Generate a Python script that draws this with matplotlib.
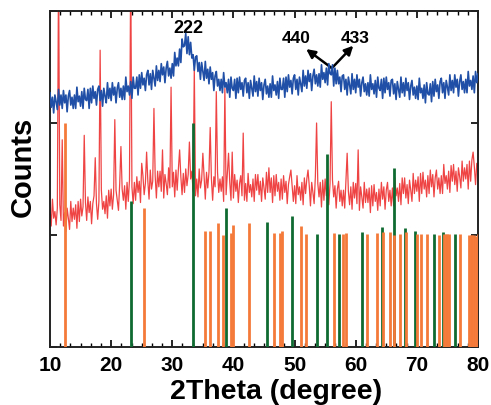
import numpy as np
import matplotlib
matplotlib.use("Agg")
import matplotlib.pyplot as plt
from matplotlib.ticker import AutoMinorLocator

plt.rcParams['font.family'] = ['Liberation Sans', 'DejaVu Sans']
plt.rcParams['font.weight'] = 'bold'

# 2-theta scan grid (0.2 degree step, 10-80 degrees)
two_theta = np.linspace(10, 80, 351)

# Upper pattern (blue), offset counts
blue_counts = [
    2.27, 2.14, 2.23, 2.09, 2.25, 2.19, 2.12, 2.30, 2.16, 2.25,
    2.13, 2.29, 2.18, 2.25, 2.10, 2.24, 2.29, 2.16, 2.23, 2.13,
    2.25, 2.13, 2.32, 2.19, 2.24, 2.15, 2.28, 2.13, 2.31, 2.21,
    2.20, 2.30, 2.13, 2.31, 2.18, 2.33, 2.22, 2.28, 2.16, 2.30,
    2.33, 2.20, 2.29, 2.15, 2.31, 2.24, 2.18, 2.36, 2.22, 2.31,
    2.20, 2.36, 2.25, 2.32, 2.18, 2.31, 2.36, 2.23, 2.31, 2.21,
    2.33, 2.21, 2.41, 2.28, 2.33, 2.25, 2.37, 2.22, 2.41, 2.31,
    2.31, 2.41, 2.25, 2.43, 2.31, 2.45, 2.34, 2.40, 2.29, 2.43,
    2.47, 2.34, 2.44, 2.30, 2.47, 2.40, 2.33, 2.51, 2.38, 2.47,
    2.37, 2.53, 2.43, 2.50, 2.36, 2.49, 2.55, 2.42, 2.49, 2.40,
    2.53, 2.42, 2.63, 2.51, 2.58, 2.51, 2.66, 2.54, 2.75, 2.68,
    2.69, 2.80, 2.62, 2.77, 2.61, 2.72, 2.58, 2.61, 2.47, 2.59,
    2.60, 2.46, 2.54, 2.39, 2.54, 2.46, 2.38, 2.55, 2.40, 2.48,
    2.35, 2.50, 2.39, 2.45, 2.29, 2.42, 2.46, 2.33, 2.39, 2.29,
    2.39, 2.27, 2.45, 2.32, 2.36, 2.27, 2.39, 2.23, 2.41, 2.31,
    2.29, 2.39, 2.22, 2.40, 2.27, 2.41, 2.30, 2.36, 2.24, 2.38,
    2.40, 2.27, 2.36, 2.22, 2.38, 2.31, 2.24, 2.42, 2.28, 2.37,
    2.24, 2.40, 2.29, 2.36, 2.21, 2.34, 2.39, 2.26, 2.33, 2.23,
    2.35, 2.23, 2.42, 2.29, 2.34, 2.25, 2.37, 2.22, 2.40, 2.30,
    2.30, 2.40, 2.23, 2.41, 2.28, 2.43, 2.32, 2.38, 2.26, 2.40,
    2.43, 2.30, 2.39, 2.25, 2.41, 2.35, 2.28, 2.47, 2.33, 2.42,
    2.31, 2.47, 2.37, 2.44, 2.29, 2.42, 2.48, 2.35, 2.43, 2.33,
    2.44, 2.32, 2.52, 2.39, 2.45, 2.36, 2.49, 2.34, 2.53, 2.44,
    2.43, 2.52, 2.33, 2.49, 2.35, 2.47, 2.35, 2.41, 2.28, 2.42,
    2.43, 2.30, 2.39, 2.25, 2.41, 2.34, 2.26, 2.44, 2.30, 2.39,
    2.27, 2.43, 2.32, 2.39, 2.24, 2.36, 2.41, 2.28, 2.35, 2.25,
    2.36, 2.24, 2.43, 2.30, 2.35, 2.26, 2.38, 2.23, 2.41, 2.31,
    2.29, 2.39, 2.22, 2.40, 2.27, 2.41, 2.30, 2.36, 2.24, 2.38,
    2.39, 2.26, 2.35, 2.21, 2.37, 2.30, 2.23, 2.41, 2.27, 2.36,
    2.24, 2.40, 2.29, 2.36, 2.21, 2.33, 2.38, 2.25, 2.32, 2.22,
    2.33, 2.21, 2.40, 2.27, 2.31, 2.22, 2.34, 2.18, 2.36, 2.26,
    2.25, 2.35, 2.19, 2.37, 2.24, 2.39, 2.28, 2.34, 2.22, 2.37,
    2.40, 2.27, 2.36, 2.22, 2.38, 2.32, 2.25, 2.43, 2.29, 2.38,
    2.27, 2.43, 2.32, 2.39, 2.24, 2.37, 2.43, 2.30, 2.37, 2.27,
    2.39, 2.27, 2.46, 2.33, 2.38, 2.30, 2.42, 2.27, 2.46, 2.36,
    2.44,
]

# Lower pattern (red): background counts
red_counts = [
    1.24, 1.08, 1.32, 1.15, 1.21, 1.09, 1.24, 1.04, 1.27, 1.13,
    1.26, 1.08, 1.20, 1.03, 1.24, 1.15, 1.05, 1.30, 1.12, 1.24,
    1.14, 1.27, 1.06, 1.30, 1.12, 1.32, 1.17, 1.25, 1.10, 1.29,
    1.13, 1.34, 1.20, 1.30, 1.10, 1.28, 1.35, 1.17, 1.28, 1.14,
    1.30, 1.14, 1.40, 1.23, 1.30, 1.19, 1.35, 1.15, 1.40, 1.26,
    1.41, 1.23, 1.36, 1.18, 1.40, 1.31, 1.22, 1.46, 1.29, 1.41,
    1.31, 1.44, 1.23, 1.47, 1.30, 1.49, 1.35, 1.43, 1.28, 1.47,
    1.31, 1.52, 1.38, 1.48, 1.29, 1.46, 1.53, 1.36, 1.46, 1.32,
    1.48, 1.32, 1.58, 1.41, 1.48, 1.36, 1.53, 1.33, 1.57, 1.43,
    1.57, 1.39, 1.51, 1.33, 1.54, 1.46, 1.36, 1.60, 1.42, 1.54,
    1.43, 1.56, 1.34, 1.58, 1.40, 1.59, 1.44, 1.52, 1.36, 1.55,
    1.38, 1.59, 1.44, 1.54, 1.34, 1.50, 1.57, 1.39, 1.49, 1.35,
    1.50, 1.34, 1.59, 1.42, 1.49, 1.37, 1.52, 1.32, 1.56, 1.42,
    1.56, 1.38, 1.50, 1.31, 1.52, 1.43, 1.33, 1.56, 1.38, 1.50,
    1.39, 1.52, 1.30, 1.54, 1.36, 1.54, 1.39, 1.47, 1.31, 1.50,
    1.33, 1.54, 1.39, 1.49, 1.29, 1.46, 1.53, 1.35, 1.45, 1.31,
    1.46, 1.30, 1.55, 1.38, 1.45, 1.34, 1.50, 1.30, 1.54, 1.40,
    1.54, 1.36, 1.48, 1.30, 1.51, 1.42, 1.32, 1.56, 1.38, 1.50,
    1.38, 1.51, 1.29, 1.53, 1.35, 1.54, 1.39, 1.47, 1.31, 1.50,
    1.32, 1.53, 1.38, 1.48, 1.28, 1.45, 1.52, 1.34, 1.44, 1.30,
    1.44, 1.28, 1.53, 1.36, 1.43, 1.31, 1.47, 1.27, 1.51, 1.37,
    1.50, 1.32, 1.44, 1.26, 1.47, 1.38, 1.28, 1.52, 1.34, 1.46,
    1.34, 1.47, 1.25, 1.49, 1.31, 1.50, 1.35, 1.43, 1.27, 1.46,
    1.28, 1.49, 1.34, 1.44, 1.24, 1.41, 1.48, 1.30, 1.40, 1.26,
    1.40, 1.24, 1.49, 1.32, 1.39, 1.27, 1.43, 1.23, 1.47, 1.33,
    1.46, 1.28, 1.40, 1.22, 1.43, 1.34, 1.24, 1.47, 1.29, 1.41,
    1.29, 1.42, 1.20, 1.44, 1.26, 1.45, 1.30, 1.38, 1.22, 1.41,
    1.26, 1.47, 1.32, 1.43, 1.23, 1.40, 1.47, 1.30, 1.40, 1.26,
    1.42, 1.26, 1.51, 1.35, 1.42, 1.30, 1.46, 1.27, 1.51, 1.37,
    1.51, 1.33, 1.45, 1.28, 1.49, 1.40, 1.30, 1.55, 1.37, 1.49,
    1.39, 1.52, 1.30, 1.55, 1.37, 1.56, 1.41, 1.49, 1.34, 1.53,
    1.37, 1.58, 1.43, 1.54, 1.34, 1.51, 1.58, 1.41, 1.51, 1.37,
    1.53, 1.37, 1.63, 1.46, 1.53, 1.41, 1.57, 1.38, 1.62, 1.48,
    1.63, 1.45, 1.57, 1.39, 1.60, 1.52, 1.42, 1.66, 1.48, 1.60,
    1.50, 1.63, 1.41, 1.66, 1.48, 1.67, 1.52, 1.61, 1.45, 1.64,
    1.62,
]

# Sharp reflections of the red pattern: position (deg), peak counts
red_peak_pos = [11.4, 12.0, 15.6, 17.4, 18.2, 20.6, 21.6, 23.2, 25.0, 25.8,
                27.0, 28.4, 29.8, 31.2, 32.8, 33.6, 35.0, 36.2, 37.2, 38.6,
                39.2, 39.8, 41.6, 45.8, 49.4, 52.2, 53.6, 56.0, 58.6, 60.4,
                79.2]
red_peak_val = [3.40, 1.85, 1.89, 1.69, 2.65, 2.03, 1.79, 3.40, 1.64, 1.74,
                2.13, 1.76, 2.32, 1.76, 1.83, 2.49, 1.73, 1.96, 2.28, 2.31,
                1.73, 1.74, 1.91, 1.60, 1.58, 1.58, 2.00, 2.19, 1.73, 1.76,
                1.74]

# Reference pattern 1 (orange sticks)
orange_pos = [12.45, 25.3, 35.4, 36.2, 37.4, 38.3, 39.6, 40.0, 42.6, 46.7,
              47.6, 48.0, 51.1, 51.9, 56.4, 58.0, 58.4, 61.9, 63.5, 64.4,
              65.6, 66.2, 67.3, 68.2, 70.0, 70.7, 71.7, 73.6, 74.4, 74.7,
              75.0, 75.3, 77.0, 78.5, 78.8, 79.1, 79.4, 79.7, 79.95]
orange_val = [2.00, 1.24, 1.04, 1.04, 1.11, 1.00, 1.02, 1.09, 1.11, 1.02,
              1.02, 1.04, 1.08, 1.01, 1.02, 1.01, 1.02, 1.01, 1.02, 1.03,
              1.03, 1.00, 1.01, 1.03, 1.01, 1.01, 1.01, 1.00, 1.01, 1.01,
              1.01, 1.01, 1.01, 1.00, 1.00, 1.00, 1.00, 0.99, 1.01]

# Reference pattern 2 (green sticks)
green_pos = [23.2, 33.4, 38.8, 45.5, 49.6, 53.7, 55.3, 57.3, 61.1, 64.3,
             66.3, 68.0, 69.7, 72.8, 74.2, 76.3]
green_val = [1.30, 2.00, 1.24, 1.12, 1.17, 1.01, 1.72, 1.01, 1.03, 1.07,
             1.60, 1.06, 1.04, 1.01, 1.03, 1.01]

x_ticks = [10, 20, 30, 40, 50, 60, 70, 80]

# Merge the sharp reflections into the red trace
red_trace = np.array(red_counts, dtype=float)
for p, v in zip(red_peak_pos, red_peak_val):
    i = int(np.argmin(np.abs(two_theta - p)))
    red_trace[i] = max(red_trace[i], v)

fig = plt.figure(figsize=(4.91, 4.06), dpi=100)
ax = fig.add_axes([50 / 491, 58 / 406, 428 / 491, 336 / 406])

ax.plot(two_theta, red_trace, color='#EE3030', lw=0.9, alpha=0.9, zorder=2)
ax.vlines(green_pos, 0, green_val, color='#0E6A30', lw=2.0, zorder=3)
ax.vlines(orange_pos, 0, orange_val, color='#F47A3A', lw=2.0, zorder=4)
ax.plot(two_theta, blue_counts, color='#1F4FA6', lw=1.2, zorder=5)

ax.set_xlim(10, 80)
ax.set_ylim(0, 3)
ax.set_xticks(x_ticks)
ax.xaxis.set_minor_locator(AutoMinorLocator(6))
ax.set_yticks([0, 1, 2, 3])
ax.set_yticklabels([])
ax.tick_params(axis='x', which='major', direction='in', top=True, length=5,
               width=1.2, labelsize=15, pad=6)
ax.tick_params(axis='x', which='minor', direction='in', top=True, length=3,
               width=1.0)
ax.tick_params(axis='y', which='major', direction='in', right=True, length=5,
               width=1.2)
for lab in ax.get_xticklabels():
    lab.set_fontweight('bold')
for s in ax.spines.values():
    s.set_linewidth(1.4)
    s.set_color('#222222')

ax.set_xlabel('2Theta (degree)', fontsize=20.5, fontweight='bold')
ax.xaxis.set_label_coords(0.528, -0.092)
ax.set_ylabel('Counts', fontsize=21, fontweight='bold')
ax.yaxis.set_label_coords(-0.03, 0.54)

ax.text(32.6, 2.85, '222', fontsize=13, fontweight='bold',
        ha='center', va='center')
ax.text(50.2, 2.76, '440', fontsize=12.5, fontweight='bold',
        ha='center', va='center')
ax.text(59.9, 2.76, '433', fontsize=12.5, fontweight='bold',
        ha='center', va='center')
arrow = dict(arrowstyle='-|>', lw=1.8, color='black', mutation_scale=13,
             shrinkA=0, shrinkB=0)
ax.annotate('', xy=(51.9, 2.66), xytext=(56.1, 2.49), arrowprops=arrow)
ax.annotate('', xy=(59.6, 2.69), xytext=(56.1, 2.49), arrowprops=arrow)

fig.savefig('out.png', dpi=100)
